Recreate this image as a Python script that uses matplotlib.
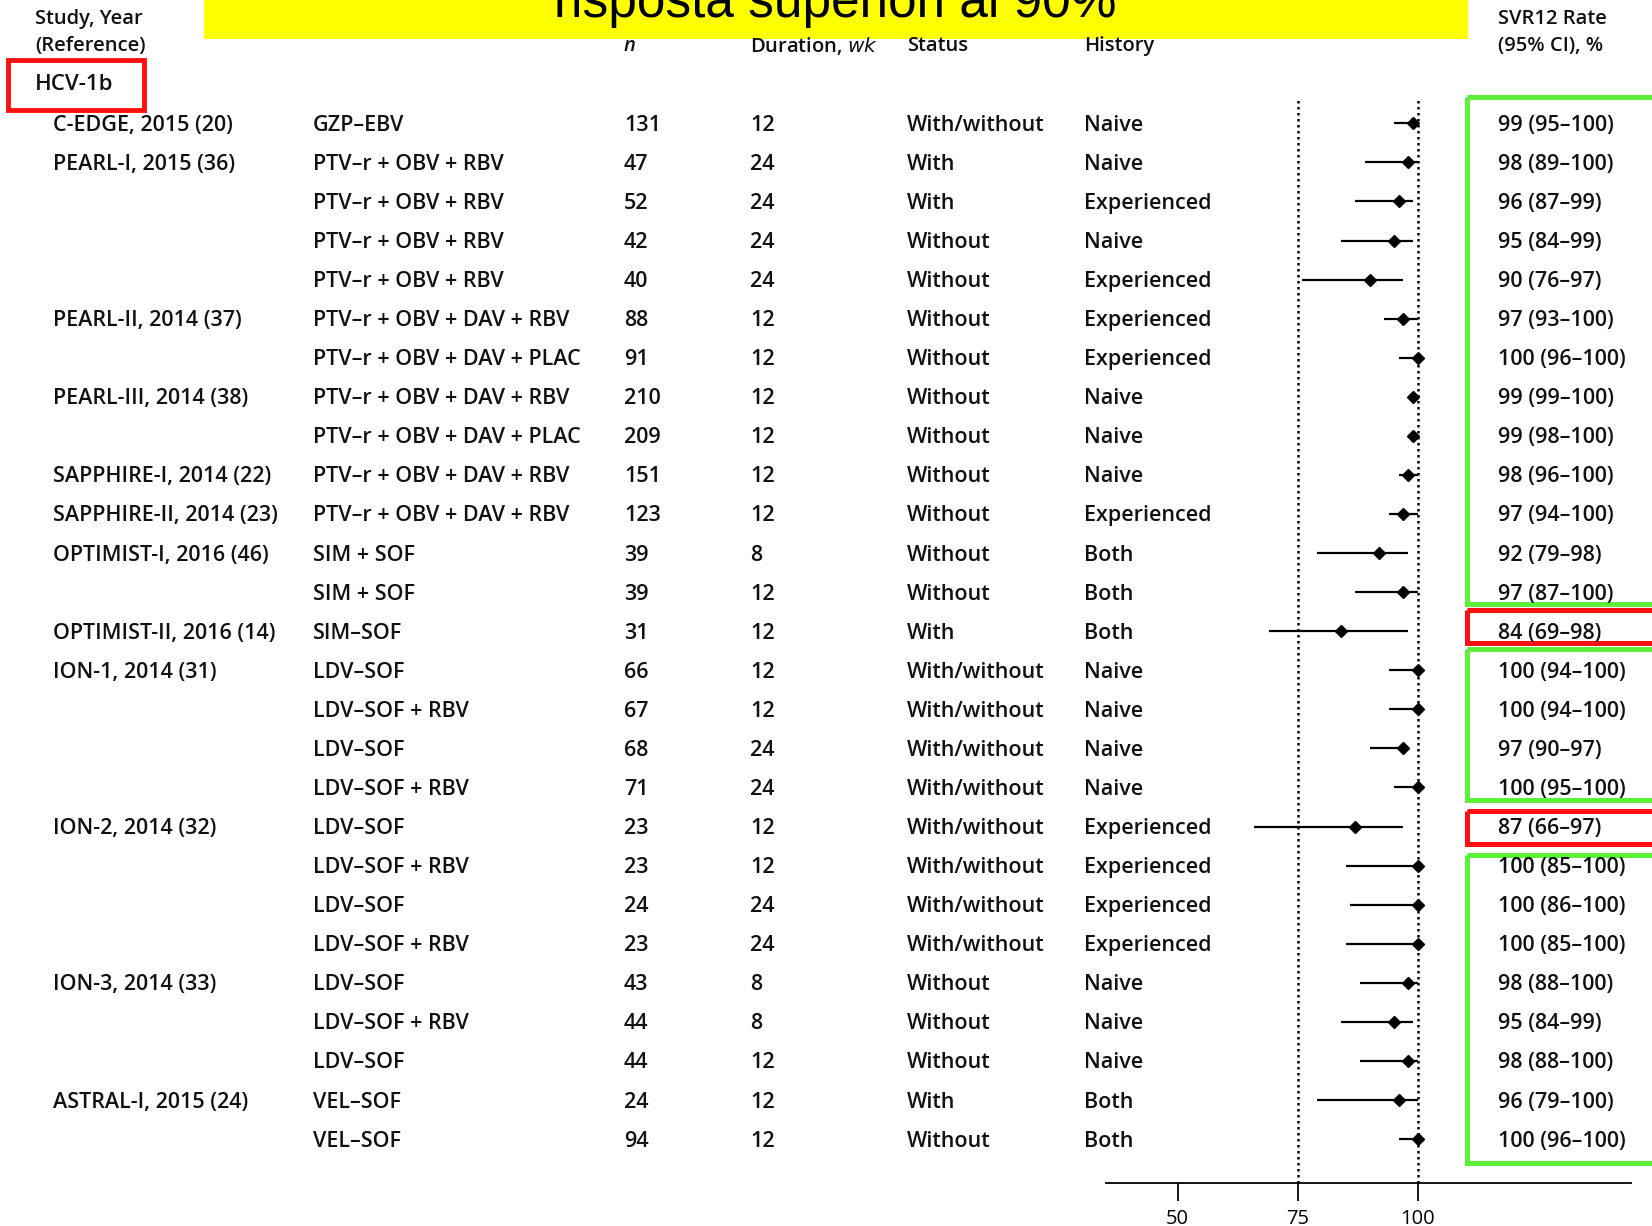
import matplotlib
matplotlib.use("Agg")
import matplotlib.pyplot as plt
from matplotlib.patches import Rectangle

plt.rcParams['font.family'] = ['Open Sans', 'DejaVu Sans']

# ---- data ----
study = ["C-EDGE, 2015 (20)", "PEARL-I, 2015 (36)", "", "", "",
         "PEARL-II, 2014 (37)", "", "PEARL-III, 2014 (38)", "",
         "SAPPHIRE-I, 2014 (22)", "SAPPHIRE-II, 2014 (23)",
         "OPTIMIST-I, 2016 (46)", "", "OPTIMIST-II, 2016 (14)",
         "ION-1, 2014 (31)", "", "", "", "ION-2, 2014 (32)", "", "", "",
         "ION-3, 2014 (33)", "", "", "ASTRAL-I, 2015 (24)", ""]
regimen = ["GZP–EBV", "PTV–r + OBV + RBV", "PTV–r + OBV + RBV",
           "PTV–r + OBV + RBV", "PTV–r + OBV + RBV",
           "PTV–r + OBV + DAV + RBV", "PTV–r + OBV + DAV + PLAC",
           "PTV–r + OBV + DAV + RBV", "PTV–r + OBV + DAV + PLAC",
           "PTV–r + OBV + DAV + RBV", "PTV–r + OBV + DAV + RBV",
           "SIM + SOF", "SIM + SOF", "SIM–SOF",
           "LDV–SOF", "LDV–SOF + RBV", "LDV–SOF", "LDV–SOF + RBV",
           "LDV–SOF", "LDV–SOF + RBV", "LDV–SOF", "LDV–SOF + RBV",
           "LDV–SOF", "LDV–SOF + RBV", "LDV–SOF", "VEL–SOF", "VEL–SOF"]
n = [131, 47, 52, 42, 40, 88, 91, 210, 209, 151, 123, 39, 39, 31,
     66, 67, 68, 71, 23, 23, 24, 23, 43, 44, 44, 24, 94]
weeks = [12, 24, 24, 24, 24, 12, 12, 12, 12, 12, 12, 8, 12, 12,
         12, 12, 24, 24, 12, 12, 24, 24, 8, 8, 12, 12, 12]
status = ["With/without", "With", "With", "Without", "Without", "Without",
          "Without", "Without", "Without", "Without", "Without", "Without",
          "Without", "With", "With/without", "With/without", "With/without",
          "With/without", "With/without", "With/without", "With/without",
          "With/without", "Without", "Without", "Without", "With", "Without"]
history = ["Naive", "Naive", "Experienced", "Naive", "Experienced",
           "Experienced", "Experienced", "Naive", "Naive", "Naive",
           "Experienced", "Both", "Both", "Both", "Naive", "Naive", "Naive",
           "Naive", "Experienced", "Experienced", "Experienced", "Experienced",
           "Naive", "Naive", "Naive", "Both", "Both"]
svr = [99, 98, 96, 95, 90, 97, 100, 99, 99, 98, 97, 92, 97, 84,
       100, 100, 97, 100, 87, 100, 100, 100, 98, 95, 98, 96, 100]
ci_lo = [95, 89, 87, 84, 76, 93, 96, 99, 98, 96, 94, 79, 87, 69,
         94, 94, 90, 95, 66, 85, 86, 85, 88, 84, 88, 79, 96]
ci_hi = [100, 100, 99, 99, 97, 100, 100, 100, 100, 100, 100, 98, 100, 98,
         100, 100, 97, 100, 97, 100, 100, 100, 100, 99, 100, 100, 100]
ticks = [50, 75, 100]

# highlight frames: (top row edge, bottom row edge, colour)
frames = [(-0.665, 12.30, '#5cf03a'), (12.46, 13.30, '#ff1010'),
          (13.46, 17.32, '#5cf03a'), (17.60, 18.44, '#ff1010'),
          (18.73, 26.61, '#5cf03a')]

W, H = 1652, 1226
ROW0, STEP = 123.3, 39.07          # pixel y of first row, row spacing

fig = plt.figure(figsize=(W / 100, H / 100), dpi=100)

# text layer: x in pixels, y in row units
ax = fig.add_axes([0, 0, 1, 1])
ax.set_xlim(0, W)
ax.set_ylim((H - ROW0) / STEP, -ROW0 / STEP)
ax.axis('off')

def prow(px):
    return (px - ROW0) / STEP

fs = 15.5
kw = dict(fontsize=fs, va='center', color='#111111', fontweight='semibold')
rows = list(range(len(svr)))
for i in rows:
    y = i + 0.05
    ax.text(53, y, study[i], **kw)
    ax.text(313, y, regimen[i], **kw)
    ax.text(624, y, str(n[i]), **kw)
    ax.text(750, y, str(weeks[i]), **kw)
    ax.text(907, y, status[i], **kw)
    ax.text(1084, y, history[i], **kw)
    ax.text(1498, y, f"{svr[i]} ({ci_lo[i]}–{ci_hi[i]})", **kw)

# headers
hk = dict(fontsize=14.5, va='center', color='#111111', fontweight='semibold')
ax.text(35, prow(19), "Study, Year", **hk)
ax.text(35, prow(46), "(Reference)", **hk)
ax.text(624, prow(46), "n", style='italic', **hk)
ax.text(750, prow(46), "Duration, $\\it{wk}$", **hk)
ax.text(907, prow(46), "Status", **hk)
ax.text(1084, prow(46), "History", **hk)
ax.text(1498, prow(19), "SVR12 Rate", **hk)
ax.text(1498, prow(46), "(95% CI), %", **hk)
ax.text(35, prow(85), "HCV-1b", fontsize=16, va='center', color='#111111',
        fontweight='semibold')
ax.add_patch(Rectangle((8, prow(60)), 136, prow(110) - prow(60),
                       fill=False, ec='#ff1010', lw=3.5))

# yellow banner with title
ax.add_patch(Rectangle((204, prow(0)), 1264, prow(39) - prow(0),
                       fc='#ffff00', ec='none'))
ax.text(835, prow(17), "risposta superiori al 90%", ha='center',
        va='baseline', fontsize=37, family='Liberation Sans')

for top, bot, col in frames:
    ax.add_patch(Rectangle((1467, top), 300, bot - top, fill=False,
                           ec=col, lw=3.6, clip_on=False))

# forest plot
x0, x1 = 1106, 1631
yb, yt = 1183, 98
axf = fig.add_axes([x0 / W, 1 - yb / H, (x1 - x0) / W, (yb - yt) / H])
axf.set_xlim(35.1, 144.4)
axf.set_ylim(prow(yb), prow(yt))
axf.patch.set_alpha(0)
for s in ['left', 'top', 'right']:
    axf.spines[s].set_visible(False)
axf.spines['bottom'].set_linewidth(1.3)
axf.set_yticks([])
axf.set_xticks(ticks)
axf.tick_params(axis='x', direction='out', length=13, width=1.3,
                labelsize=14.5, pad=6)
for v in (75, 100):
    axf.axvline(v, color='black', lw=1.8, ls=(0, (1, 1.4)), zorder=1)
axf.hlines(rows, ci_lo, ci_hi, color='black', lw=1.6, zorder=2)
axf.plot(svr, rows, 'D', ms=6.5, color='black', zorder=3)

fig.savefig("out.png", dpi=100)
